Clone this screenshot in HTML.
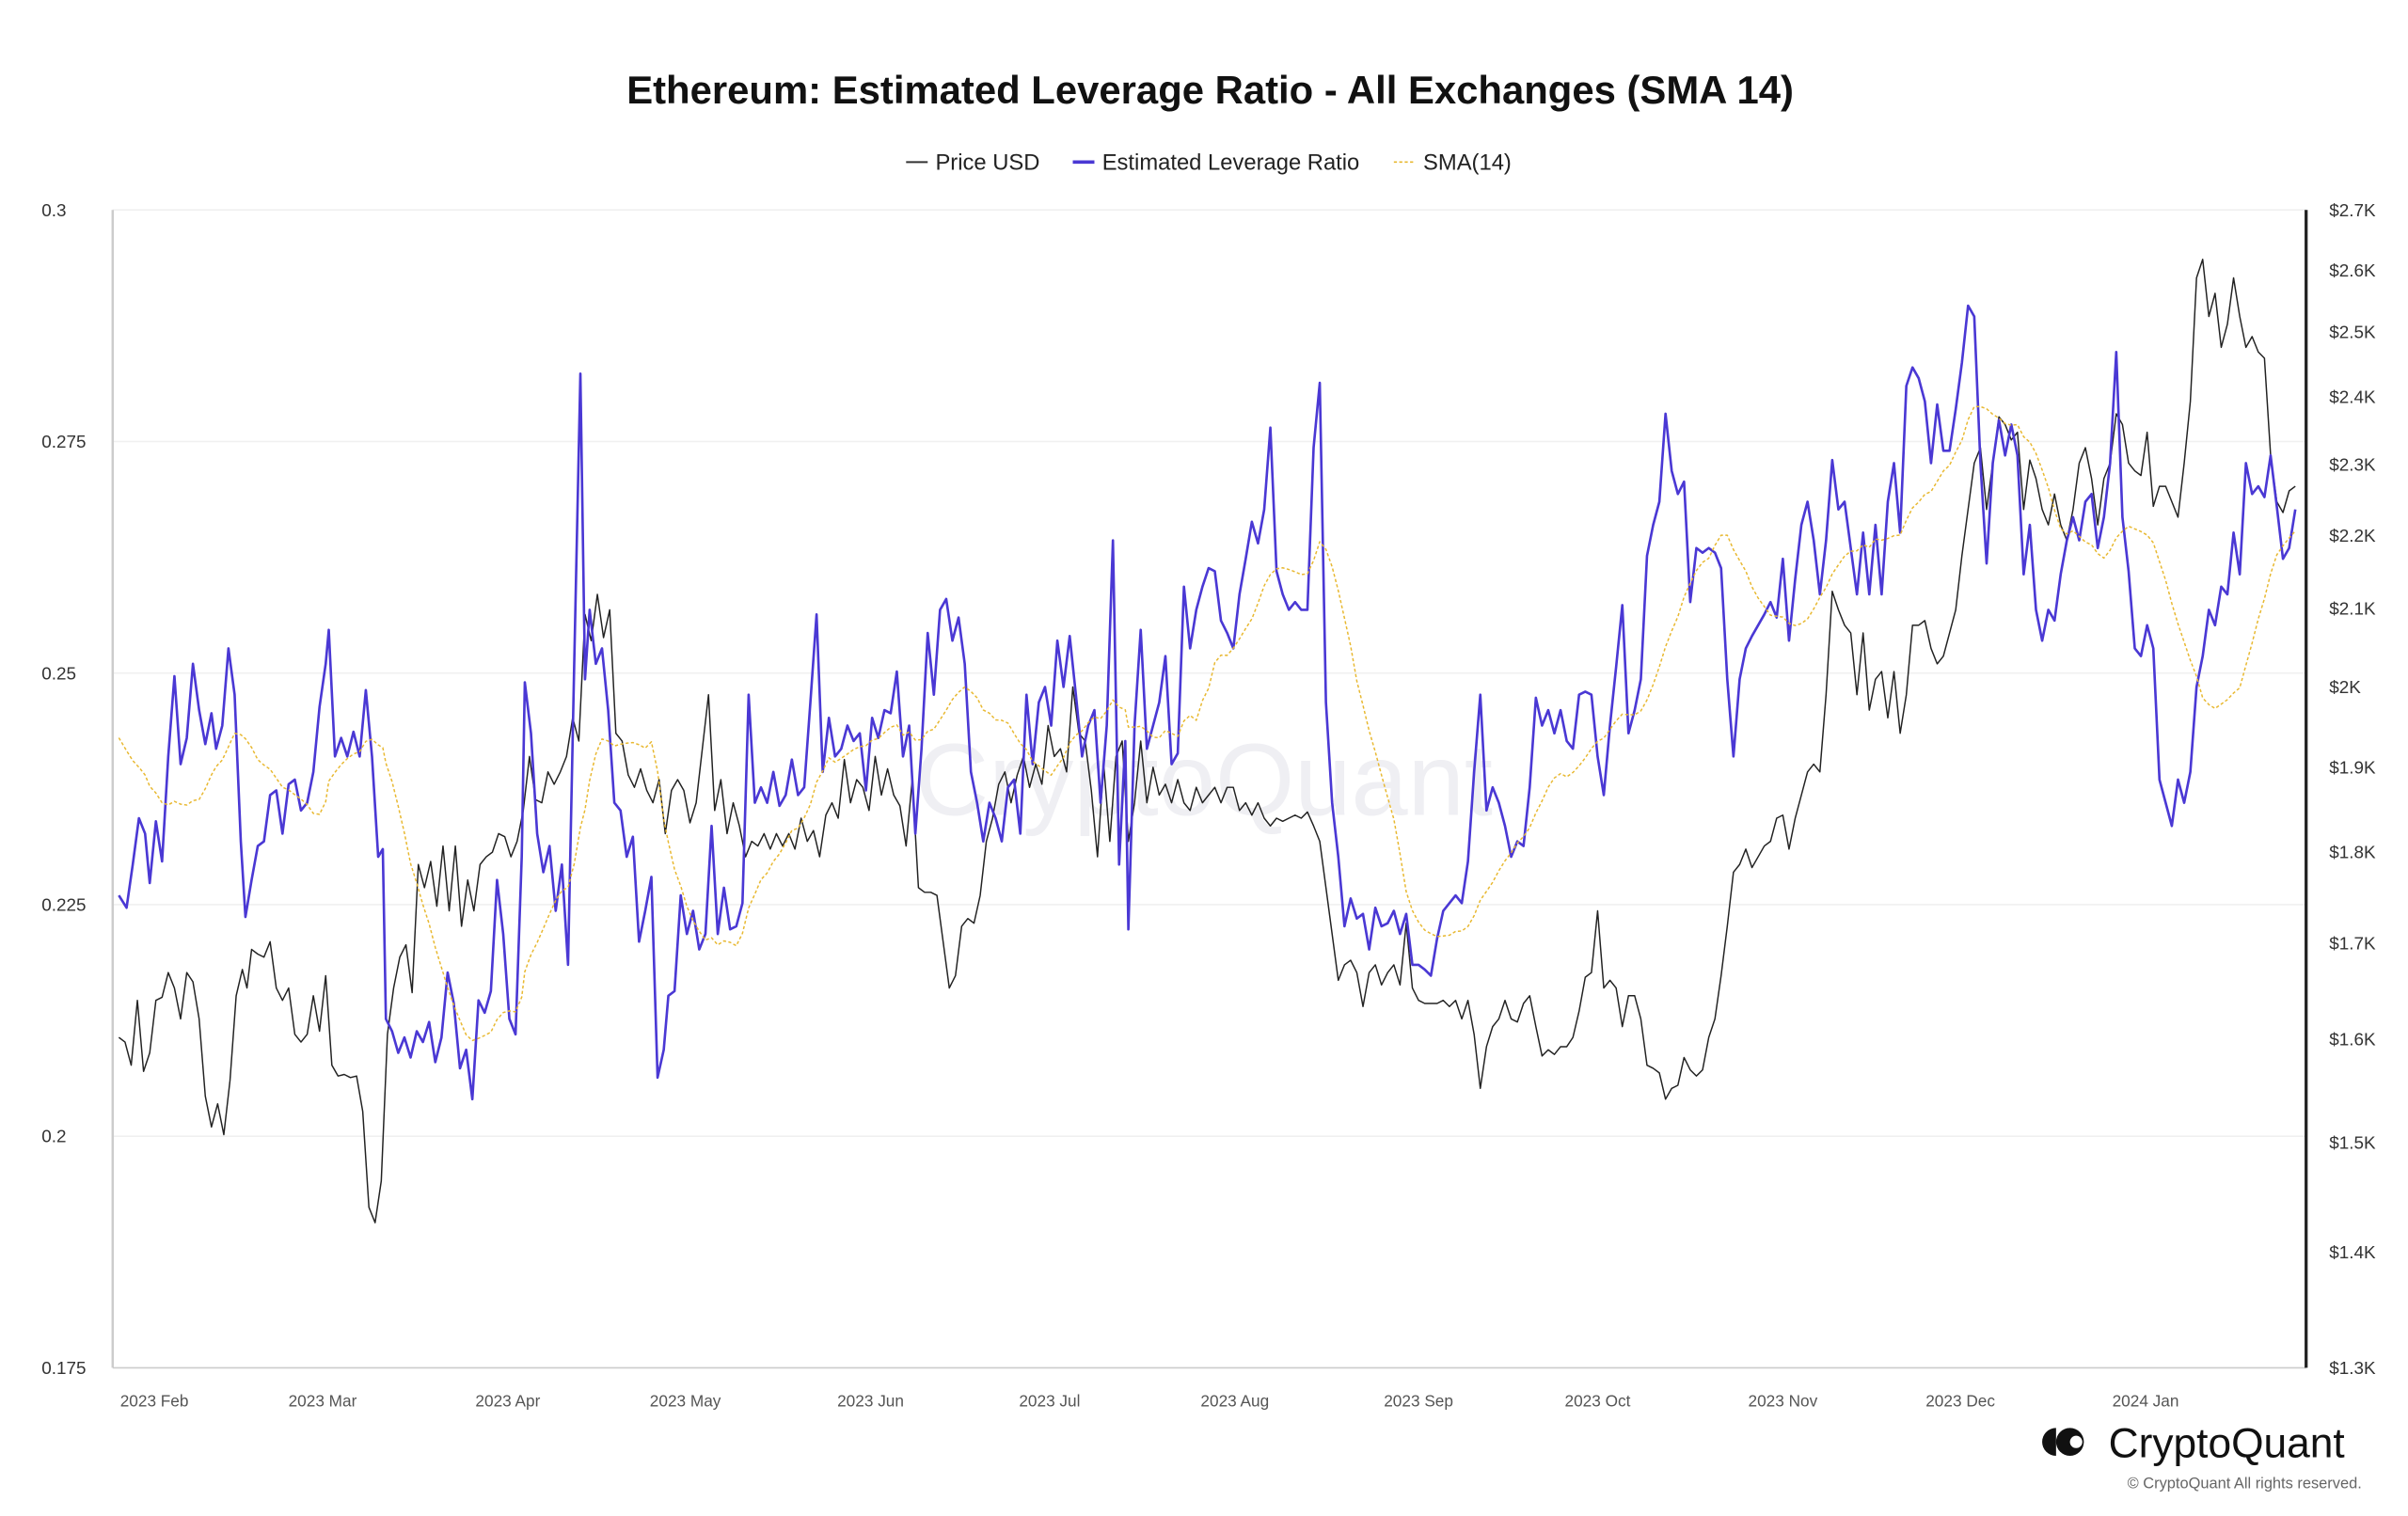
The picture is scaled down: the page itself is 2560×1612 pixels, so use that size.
<!DOCTYPE html>
<html><head><meta charset="utf-8"><style>
html,body{margin:0;padding:0;background:#fff;}
svg{display:block;font-family:"Liberation Sans",Arial,sans-serif;}
</style></head><body>
<svg id="c" width="2560" height="1612" viewBox="0 0 1560 982" preserveAspectRatio="none" xmlns="http://www.w3.org/2000/svg">
<rect width="1560" height="982" fill="#fff"/>
<text x="784" y="67" text-anchor="middle" font-size="25.5" font-weight="bold" fill="#111">Ethereum: Estimated Leverage Ratio - All Exchanges (SMA 14)</text>
<g font-size="14.5" fill="#222">
<line x1="587" y1="105" x2="601" y2="105" stroke="#333" stroke-width="1.2"/>
<text x="606" y="110">Price USD</text>
<line x1="695" y1="105" x2="709" y2="105" stroke="#4a38d4" stroke-width="2.2"/>
<text x="714" y="110">Estimated Leverage Ratio</text>
<line x1="903" y1="105" x2="917" y2="105" stroke="#e8b830" stroke-width="1" stroke-dasharray="2,1.5"/>
<text x="922" y="110">SMA(14)</text>
</g>
<g stroke="#f0f0f0" stroke-width="1">
<line x1="73" y1="136" x2="1494" y2="136"/><line x1="73" y1="286" x2="1494" y2="286"/>
<line x1="73" y1="436" x2="1494" y2="436"/><line x1="73" y1="586" x2="1494" y2="586"/>
<line x1="73" y1="736" x2="1494" y2="736"/>
</g>
<text x="780" y="528" text-anchor="middle" font-size="66" fill="#efeff3">CryptoQuant</text>
<line x1="73" y1="136" x2="73" y2="886" stroke="#ccc" stroke-width="1.5"/>
<line x1="73" y1="886" x2="1494" y2="886" stroke="#ccc" stroke-width="1"/>
<line x1="1494" y1="136" x2="1494" y2="886" stroke="#222" stroke-width="2"/>
<g font-size="11.5" fill="#333">
<text x="27" y="140">0.3</text><text x="27" y="290">0.275</text><text x="27" y="440">0.25</text>
<text x="27" y="590">0.225</text><text x="27" y="740">0.2</text><text x="27" y="890">0.175</text>
<text x="1509" y="140">$2.7K</text><text x="1509" y="179">$2.6K</text><text x="1509" y="219">$2.5K</text>
<text x="1509" y="261">$2.4K</text><text x="1509" y="305">$2.3K</text><text x="1509" y="351">$2.2K</text>
<text x="1509" y="398">$2.1K</text><text x="1509" y="449">$2K</text><text x="1509" y="501">$1.9K</text>
<text x="1509" y="556">$1.8K</text><text x="1509" y="615">$1.7K</text><text x="1509" y="677">$1.6K</text>
<text x="1509" y="744">$1.5K</text><text x="1509" y="815">$1.4K</text><text x="1509" y="890">$1.3K</text>
</g>
<g font-size="10.5" fill="#555" text-anchor="middle">
<text x="100" y="911">2023 Feb</text><text x="209" y="911">2023 Mar</text><text x="329" y="911">2023 Apr</text>
<text x="444" y="911">2023 May</text><text x="564" y="911">2023 Jun</text><text x="680" y="911">2023 Jul</text>
<text x="800" y="911">2023 Aug</text><text x="919" y="911">2023 Sep</text><text x="1035" y="911">2023 Oct</text>
<text x="1155" y="911">2023 Nov</text><text x="1270" y="911">2023 Dec</text><text x="1390" y="911">2024 Jan</text>
</g>
<g id="series"></g>
<g>
<circle cx="1341" cy="934" r="9" fill="#111"/><circle cx="1345" cy="934" r="4" fill="#fff"/>
<path d="M1332 925 a9 9 0 0 0 0 18 z" fill="#111"/>
<text x="1366" y="944" font-size="27" fill="#111">CryptoQuant</text>
<text x="1530" y="964" font-size="10" fill="#666" text-anchor="end">© CryptoQuant All rights reserved.</text>
</g>
</svg>
<script>
var lev=[77,580,82,588,86,560,90,530,94,540,97,572,101,532,105,558,109,490,113,438,117,495,121,478,125,430,129,460,133,482,137,462,140,485,144,470,148,420,152,450,156,545,159,594,163,570,167,548,171,545,175,515,179,512,183,540,187,508,191,505,195,525,199,520,203,500,207,458,211,430,213,408,217,490,221,478,225,490,229,474,233,490,237,447,241,490,245,555,248,550,250,660,254,668,258,682,262,672,266,685,270,668,274,675,278,662,282,688,286,672,290,630,294,650,298,692,302,680,306,712,310,648,314,656,318,642,322,570,326,605,330,660,334,670,338,555,340,442,344,475,348,540,352,565,356,548,360,590,364,560,368,625,372,430,376,242,379,440,382,395,386,430,390,420,394,460,398,520,402,525,406,555,410,542,414,610,418,590,422,568,426,698,430,680,433,645,437,642,441,580,445,605,449,590,453,615,457,605,461,535,465,605,469,575,473,602,477,600,481,585,485,450,489,520,493,510,497,520,501,500,505,522,509,515,513,492,517,515,521,510,525,455,529,398,533,500,537,465,541,490,545,485,549,470,553,480,557,475,561,512,565,465,569,478,573,460,577,462,581,435,585,490,589,470,593,540,597,485,601,410,605,450,609,395,613,388,617,415,621,400,625,430,629,500,633,520,637,545,641,520,645,530,649,545,653,510,657,505,661,540,665,450,669,495,673,455,677,445,681,470,685,415,689,445,693,412,697,450,701,490,705,470,709,460,713,520,717,470,721,350,725,560,729,480,731,602,735,470,739,408,743,485,747,470,751,455,755,425,759,495,763,488,767,380,771,420,775,395,779,380,783,368,787,370,791,402,795,410,799,420,803,385,807,362,811,338,815,352,819,330,823,277,827,370,831,385,835,395,839,390,843,395,847,395,851,290,855,248,859,455,863,520,867,555,871,600,875,582,879,595,883,592,887,615,891,588,895,600,899,598,903,590,907,605,911,592,915,625,919,625,923,628,927,632,931,608,935,590,939,585,943,580,947,585,951,558,955,500,959,450,963,525,967,510,971,520,975,535,979,555,983,545,987,548,991,510,995,452,999,470,1003,460,1007,475,1011,460,1015,480,1019,485,1023,450,1027,448,1031,450,1035,490,1039,515,1043,470,1047,432,1051,392,1055,475,1059,460,1063,440,1067,360,1071,340,1075,325,1079,268,1083,305,1087,320,1091,312,1095,390,1099,355,1103,358,1107,355,1111,358,1115,368,1119,440,1123,490,1127,440,1131,420,1135,412,1139,405,1143,398,1147,390,1151,400,1155,362,1159,415,1163,375,1167,340,1171,325,1175,350,1179,385,1183,350,1187,298,1191,330,1195,325,1199,355,1203,385,1207,345,1211,385,1215,340,1219,385,1223,325,1227,300,1231,345,1235,250,1239,238,1243,245,1247,260,1251,300,1255,262,1259,292,1263,292,1267,265,1271,235,1275,198,1279,205,1283,300,1287,365,1291,300,1295,272,1299,295,1303,275,1307,295,1311,372,1315,340,1319,395,1323,415,1327,395,1331,402,1335,372,1339,350,1343,335,1347,350,1351,325,1355,320,1359,355,1363,335,1367,300,1371,228,1375,335,1379,370,1383,420,1387,425,1391,405,1395,420,1399,505,1403,520,1407,535,1411,505,1415,520,1419,500,1423,445,1427,425,1431,395,1435,405,1439,380,1443,385,1447,345,1451,372,1455,300,1459,320,1463,315,1467,322,1471,295,1475,328,1479,362,1483,355,1487,330];
var pr=[77,672,81,675,85,690,89,648,93,694,97,682,101,648,105,646,109,630,113,640,117,660,121,630,125,636,129,660,133,710,137,730,141,715,145,735,149,700,153,645,157,628,160,640,163,615,167,618,171,620,175,610,179,640,183,648,187,640,191,670,195,675,199,670,203,645,207,668,211,632,215,690,219,697,223,696,227,698,231,697,235,720,239,782,243,792,247,765,251,670,255,640,259,620,263,612,267,643,271,560,275,575,279,558,283,587,287,548,291,590,295,548,299,600,303,570,307,590,311,560,315,555,319,552,323,540,327,542,331,555,335,545,339,525,343,490,347,518,351,520,355,500,359,508,363,500,367,490,371,465,375,480,379,398,383,415,387,385,391,413,395,395,399,475,403,480,407,502,411,510,415,498,419,512,423,520,427,505,431,540,435,512,439,505,443,512,447,533,451,520,455,485,459,450,463,525,467,505,471,540,475,520,479,535,483,555,487,545,491,548,495,540,499,550,503,540,507,548,511,540,515,550,519,530,523,545,527,538,531,555,535,528,539,520,543,530,547,492,551,520,555,505,559,510,563,525,567,490,571,515,575,498,579,515,583,522,587,548,591,505,595,575,599,578,603,578,607,580,611,610,615,640,619,632,623,600,627,595,631,598,635,580,639,545,643,530,647,508,651,500,655,520,659,502,663,490,667,510,671,495,675,508,679,470,683,490,687,485,691,500,695,445,699,475,703,480,707,512,711,555,715,495,719,545,723,490,727,480,731,545,735,520,739,480,743,520,747,497,751,515,755,508,759,520,763,505,767,520,771,525,775,510,779,520,783,515,787,510,791,520,795,510,799,510,803,525,807,520,811,528,815,520,819,530,823,535,827,530,831,532,835,530,839,528,843,530,847,526,851,535,855,545,859,575,863,605,867,635,871,625,875,622,879,630,883,652,887,630,891,625,895,638,899,630,903,625,907,638,911,598,915,640,919,648,923,650,927,650,931,650,935,648,939,652,943,648,947,660,951,648,955,670,959,705,963,678,967,665,971,660,975,648,979,660,983,662,987,650,991,645,995,665,999,684,1003,680,1007,683,1011,678,1015,678,1019,672,1023,655,1027,633,1031,630,1035,590,1039,640,1043,635,1047,640,1051,665,1055,645,1059,645,1063,660,1067,690,1071,692,1075,695,1079,712,1083,705,1087,703,1091,685,1095,693,1099,697,1103,693,1107,672,1111,660,1115,632,1119,600,1123,565,1127,560,1131,550,1135,562,1139,555,1143,548,1147,545,1151,530,1155,528,1159,550,1163,530,1167,515,1171,500,1175,495,1179,500,1183,450,1187,383,1191,395,1195,405,1199,410,1203,450,1207,410,1211,460,1215,440,1219,435,1223,465,1227,435,1231,475,1235,450,1239,405,1243,405,1247,402,1251,420,1255,430,1259,425,1263,410,1267,395,1271,360,1275,330,1279,300,1283,290,1287,330,1291,300,1295,270,1299,275,1303,285,1307,280,1311,330,1315,298,1319,310,1323,330,1327,340,1331,320,1335,340,1339,350,1343,330,1347,300,1351,290,1355,310,1359,340,1363,310,1367,300,1371,268,1375,275,1379,300,1383,305,1387,308,1391,280,1395,328,1399,315,1403,315,1407,325,1411,335,1415,300,1419,260,1423,180,1427,168,1431,205,1435,190,1439,225,1443,210,1447,180,1451,205,1455,225,1459,218,1463,228,1467,232,1471,295,1475,325,1479,332,1483,318,1487,315];
function d(a){var s="M"+a[0]+" "+a[1];for(var i=2;i<a.length;i+=2)s+=" L"+a[i]+" "+a[i+1];return s;}
var sma=[];var n=lev.length/2;
for(var i=0;i<n;i++){var s=0,c=0;for(var j=Math.max(0,i-13);j<=i;j++){s+=lev[2*j+1];c++;}
var v=s/c; if(i<13){v=(v*c+470*(14-c))/14;} sma.push(lev[2*i],v.toFixed(1));}
var ns="http://www.w3.org/2000/svg",g=document.getElementById("series");
function add(a,col,w,dash){var p=document.createElementNS(ns,"path");p.setAttribute("d",d(a));p.setAttribute("fill","none");p.setAttribute("stroke",col);p.setAttribute("stroke-width",w);p.setAttribute("stroke-linejoin","round");if(dash)p.setAttribute("stroke-dasharray",dash);g.appendChild(p);}
add(pr,"#222",0.9);
add(lev,"#4a38d4",1.6);
add(sma,"#e8b830",0.9,"2,1.5");
</script>
</body></html>
